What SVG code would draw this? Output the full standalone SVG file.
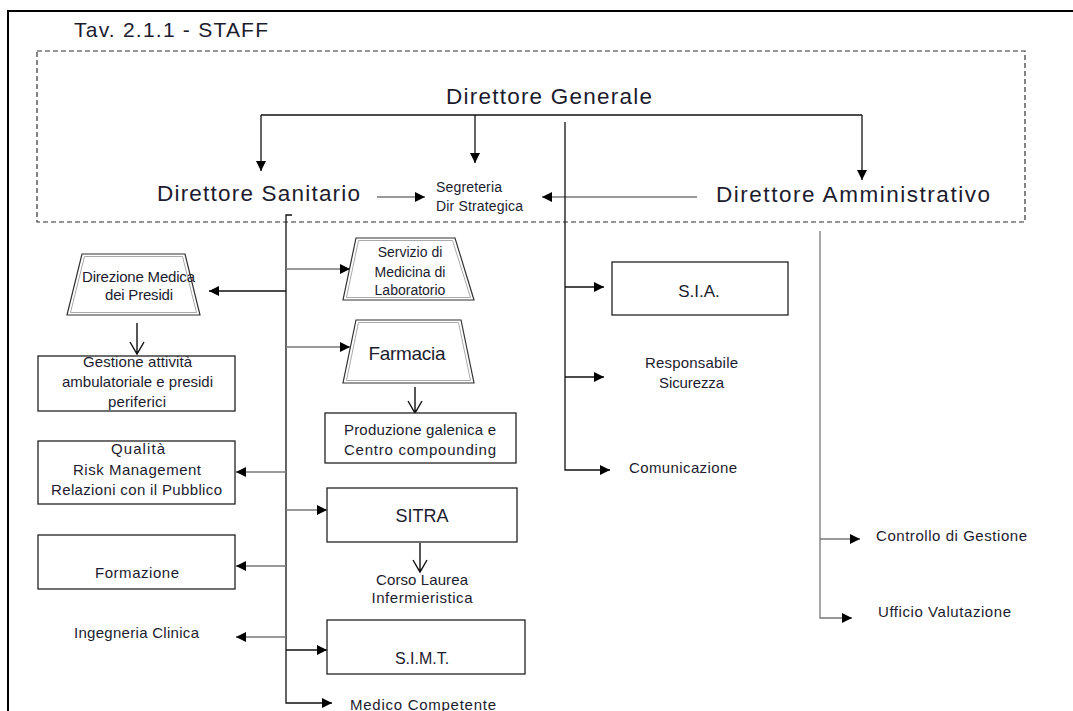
<svg xmlns="http://www.w3.org/2000/svg" width="1073" height="711" viewBox="0 0 1073 711">
<style>
text{font-family:"Liberation Sans",Arial,sans-serif;fill:#1c1c2e}
.big{font-size:22.5px}
.sm{font-size:15px;text-anchor:middle}
.sml{font-size:15px}
.box{fill:#fff;stroke:#222;stroke-width:1.3}
.trap{fill:#fff;stroke:#333;stroke-width:1.2}
.trapin{fill:none;stroke:#aaa;stroke-width:1}
.c{fill:none;stroke:#111;stroke-width:1.3}
.cg{fill:none;stroke:#777;stroke-width:1.3}
.v{fill:none;stroke:#111;stroke-width:1.4}
</style>
<defs>
<marker id="ah" viewBox="0 0 10 10" refX="10" refY="5" markerWidth="11" markerHeight="10" orient="auto" markerUnits="userSpaceOnUse"><path d="M0,0 L10,5 L0,10 z" fill="#000"/></marker>
</defs>
<rect width="1073" height="711" fill="#fff"/>
<g id="frame">
<path d="M8,711 V11 H1073" fill="none" stroke="#000" stroke-width="2"/>
<rect x="37" y="51" width="988" height="171" fill="none" stroke="#333" stroke-width="1.2" stroke-dasharray="5,3"/>
<text x="74" y="37" style="font-size:21px" textLength="194">Tav. 2.1.1 -  STAFF</text>
</g>
<g id="connectors">
<path class="c" d="M261,115 H862"/>
<path class="c" d="M261,115 V171" marker-end="url(#ah)"/>
<path class="c" d="M475,115 V163" marker-end="url(#ah)"/>
<path class="c" d="M862,115 V180" marker-end="url(#ah)"/>
<path class="cg" d="M377,197 H425" marker-end="url(#ah)"/>
<path class="cg" d="M697,197 H542" marker-end="url(#ah)"/>
<path class="c" d="M565,122 V470 H610" marker-end="url(#ah)"/>
<path class="c" d="M565,287 H604" marker-end="url(#ah)"/>
<path class="c" d="M565,377 H604" marker-end="url(#ah)"/>
<path class="cg" d="M820,231 V618 H852" marker-end="url(#ah)"/>
<path class="cg" d="M820,539 H860" marker-end="url(#ah)"/>
<path class="c" d="M292,215 H286 V703 H332" marker-end="url(#ah)"/>
<path class="c" d="M286,291 H209" marker-end="url(#ah)"/>
<path class="cg" d="M286,269 H350" marker-end="url(#ah)"/>
<path class="cg" d="M286,347 H350" marker-end="url(#ah)"/>
<path class="cg" d="M286,472 H236" marker-end="url(#ah)"/>
<path class="cg" d="M286,510 H327" marker-end="url(#ah)"/>
<path class="cg" d="M286,566 H236" marker-end="url(#ah)"/>
<path class="cg" d="M286,637 H236" marker-end="url(#ah)"/>
<path class="c" d="M286,650 H327" marker-end="url(#ah)"/>
<path class="v" d="M137,323 V354 M130,342 L137,354 L144,342"/>
<path class="v" d="M415,387 V413 M408,401 L415,413 L422,401"/>
<path class="v" d="M420,543 V572 M413,560 L420,572 L427,560"/>
</g>
<g id="dg"><text class="big" x="446" y="104" textLength="206">Direttore  Generale</text></g>
<g id="ds"><text class="big" x="157" y="201" textLength="203">Direttore  Sanitario</text></g>
<g id="da"><text class="big" x="716" y="202" textLength="274">Direttore  Amministrativo</text></g>
<g id="segreteria">
<text style="font-size:14px" x="436" y="192" textLength="66">Segreteria</text>
<text style="font-size:14px" x="436" y="211" textLength="87">Dir Strategica</text>
</g>
<g id="direzione-medica">
<polygon class="trap" points="82,254 185,254 200,315 67,315"/>
<polygon class="trapin" points="84.5,256.5 182.5,256.5 196.5,312.5 70.5,312.5"/>
<text class="sm" x="138.5" y="282" textLength="113">Direzione Medica</text>
<text class="sm" x="139" y="300" textLength="68">dei Presidi</text>
</g>
<g id="gestione">
<rect class="box" x="38" y="356" width="197" height="55"/>
<text class="sm" x="137.5" y="367" textLength="109">Gestione attività</text>
<text class="sm" x="137.5" y="387" textLength="151">ambulatoriale e presidi</text>
<text class="sm" x="137" y="407" textLength="58">periferici</text>
</g>
<g id="qualita">
<rect class="box" x="38" y="441" width="197" height="63"/>
<text class="sm" x="138" y="454" textLength="54">Qualità</text>
<text class="sm" x="137" y="475" textLength="128">Risk Management</text>
<text class="sm" x="136.5" y="495" textLength="171">Relazioni con il Pubblico</text>
</g>
<g id="formazione">
<rect class="box" x="38" y="535" width="197" height="54"/>
<text class="sm" x="137" y="578" textLength="84">Formazione</text>
</g>
<g id="ingegneria">
<text class="sm" x="136.5" y="638" textLength="125">Ingegneria Clinica</text>
</g>
<g id="laboratorio">
<polygon class="trap" points="356,238 455,238 474,300 343,300"/>
<polygon class="trapin" points="358.5,240.5 452.5,240.5 470.5,297.5 346.5,297.5"/>
<text class="sm" style="font-size:14px" x="410" y="257">Servizio di</text>
<text class="sm" style="font-size:14px" x="410" y="277">Medicina di</text>
<text class="sm" style="font-size:14px" x="410" y="295">Laboratorio</text>
</g>
<g id="farmacia">
<polygon class="trap" points="356,320 461,320 474,383 343,383"/>
<polygon class="trapin" points="358.5,322.5 458.5,322.5 470.5,380.5 346.5,380.5"/>
<text class="sm" style="font-size:19px" x="407" y="360" textLength="77">Farmacia</text>
</g>
<g id="produzione">
<rect class="box" x="325" y="413" width="191" height="50"/>
<text class="sm" x="420" y="435" textLength="152">Produzione galenica e</text>
<text class="sm" x="420" y="455" textLength="152">Centro compounding</text>
</g>
<g id="sitra">
<rect class="box" x="327" y="488" width="190" height="54"/>
<text class="sm" style="font-size:18px" x="422" y="522">SITRA</text>
</g>
<g id="corso">
<text class="sm" x="422" y="585" textLength="92">Corso Laurea</text>
<text class="sm" x="422" y="603" textLength="101">Infermieristica</text>
</g>
<g id="simt">
<rect class="box" x="327" y="620" width="198" height="54"/>
<text class="sm" style="font-size:16px" x="422" y="664">S.I.M.T.</text>
</g>
<g id="medico">
<text class="sml" x="350" y="710" textLength="146">Medico Competente</text>
</g>
<g id="sia">
<rect class="box" x="612" y="262" width="176" height="53"/>
<text class="sm" style="font-size:17px" x="699" y="297">S.I.A.</text>
</g>
<g id="sicurezza">
<text class="sm" x="691.5" y="368" textLength="93">Responsabile</text>
<text class="sm" x="691.5" y="388" textLength="65">Sicurezza</text>
</g>
<g id="comunicazione"><text class="sml" x="629" y="473" textLength="108">Comunicazione</text></g>
<g id="controllo"><text class="sml" x="876" y="541" textLength="151">Controllo di Gestione</text></g>
<g id="valutazione"><text class="sml" x="878" y="617" textLength="133">Ufficio Valutazione</text></g>
</svg>
